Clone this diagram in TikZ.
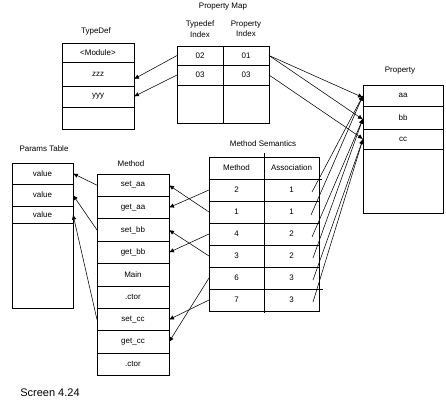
\documentclass[tikz,border=0pt]{standalone}
\usepackage{fontspec}
\setmainfont{Liberation Sans}
\usetikzlibrary{arrows.meta,positioning}

\begin{document}
\begin{tikzpicture}[x=1pt,y=-1pt,
node distance=0pt,
cell/.style={draw,line width=0.7pt,inner sep=0pt,outer sep=0pt,font=\fontsize{8}{9}\selectfont},
tdcell/.style={cell,minimum width=72pt},
pmcell/.style={cell,minimum width=46pt},
prcell/.style={cell,minimum width=80pt},
pacell/.style={cell,minimum width=61pt},
mcell/.style={cell,minimum width=72pt,minimum height=22.4pt},
mscell/.style={cell,minimum width=55pt,minimum height=22pt},
lbl/.style={font=\fontsize{8}{10.5}\selectfont,align=center,inner sep=0pt},
arr/.style={-{Latex[length=5pt,width=4.5pt]},line width=0.55pt}
]
\useasboundingbox (0,0) rectangle (446,405);

% TypeDef
\node[lbl] (ttd) at (96,31) {TypeDef};
\node[tdcell,minimum height=19pt] (td0) at (98,52.5) {<Module>};
\node[tdcell,minimum height=24pt,below=of td0] (td1) {zzz};
\node[tdcell,minimum height=21pt,below=of td1] (td2) {yyy};
\node[tdcell,minimum height=22pt,below=of td2] (td3) {};

% Property Map
\node[lbl] (tpm) at (223,7) {Property Map};
\node[lbl] (tpmi) at (200,29) {Typedef\\Index};
\node[lbl] (tpmp) at (246,29) {Property\\Index};
\node[pmcell,minimum height=19pt] (pm11) at (200,55.5) {02};
\node[pmcell,minimum height=19pt,right=of pm11] (pm12) {01};
\node[pmcell,minimum height=20pt,below=of pm11] (pm21) {03};
\node[pmcell,minimum height=20pt,right=of pm21] (pm22) {03};
\node[pmcell,minimum height=38pt,below=of pm21] (pm31) {};
\node[pmcell,minimum height=38pt,right=of pm31] (pm32) {};

% Property
\node[lbl] (tpr) at (400,71) {Property};
\node[prcell,minimum height=21pt] (pr1) at (403,95.5) {aa};
\node[prcell,minimum height=23pt,below=of pr1] (pr2) {bb};
\node[prcell,minimum height=20pt,below=of pr2] (pr3) {cc};
\node[prcell,minimum height=64pt,below=of pr3] (pr4) {};

% Params Table
\node[lbl] (tpa) at (44,149) {Params Table};
\node[pacell,minimum height=21pt] (pa1) at (42.5,173.5) {value};
\node[pacell,minimum height=22pt,below=of pa1] (pa2) {value};
\node[pacell,minimum height=17pt,below=of pa2] (pa3) {value};
\node[pacell,minimum height=85pt,below=of pa3] (pa4) {};

% Method
\node[lbl] (tm) at (131,164) {Method};
\node[mcell] (m1) at (133,185.2) {set\_aa};
\node[mcell,below=of m1] (m2) {get\_aa};
\node[mcell,below=of m2] (m3) {set\_bb};
\node[mcell,below=of m3] (m4) {get\_bb};
\node[mcell,below=of m4] (m5) {Main};
\node[mcell,below=of m5] (m6) {.ctor};
\node[mcell,below=of m6] (m7) {set\_cc};
\node[mcell,below=of m7] (m8) {get\_cc};
\node[mcell,below=of m8] (m9) {.ctor};

% Method Semantics
\node[lbl] (tms) at (263,144) {Method Semantics};
\node[mscell] (mh1) at (236.5,168) {Method};
\node[mscell,right=of mh1] (mh2) {Association};
\node[mscell,below=of mh1] (ms1) {2};
\node[mscell,right=of ms1] (as1) {1};
\node[mscell,below=of ms1] (ms2) {1};
\node[mscell,right=of ms2] (as2) {1};
\node[mscell,below=of ms2] (ms3) {4};
\node[mscell,right=of ms3] (as3) {2};
\node[mscell,below=of ms3] (ms4) {3};
\node[mscell,right=of ms4] (as4) {2};
\node[mscell,below=of ms4] (ms5) {6};
\node[mscell,right=of ms5] (as5) {3};
\node[mscell,below=of ms5] (ms6) {7};
\node[mscell,right=of ms6] (as6) {3};
\draw[line width=0.7pt] (mh1.north east) -- +(0,-4);
\draw[line width=0.7pt] (ms6.south east) -- +(0,2);
\draw[line width=0.7pt] (as1.north east) -- +(3,0);
\draw[line width=0.7pt] (as6.north east) -- +(4,0);

\node[font=\fontsize{11}{13}\selectfont,inner sep=0pt] (scr) at (50,393) {Screen 4.24};

% connectors
\draw[arr] (pm11.west) -- ([yshift=-5pt]td1.east);
\draw[arr] (pm21.west) -- (td2.east);
\draw[arr] (pm12.east) -- ([yshift=-2pt]pr1.west);
\draw[arr] (pm12.east) -- ([yshift=-2pt]pr2.west);
\draw[arr] (pm22.east) -- (pr3.west);

\coordinate (c1) at ([xshift=-7pt,yshift=-2pt]as1.east);
\coordinate (c2) at ([xshift=-8pt,yshift=-3pt]as2.east);
\coordinate (c3) at ([xshift=-7pt,yshift=-3pt]as3.east);
\coordinate (c4) at ([xshift=-6pt,yshift=-2pt]as4.east);
\coordinate (c5) at ([xshift=-6pt,yshift=-2pt]as5.east);
\coordinate (c6) at ([xshift=-6pt,yshift=-2pt]as6.east);
\draw[arr] (c1) -- (pr1.west);
\draw[arr] (c2) -- (pr1.west);
\draw[arr] (c3) -- ([yshift=-1pt]pr2.west);
\draw[arr] (c4) -- ([yshift=-1pt]pr2.west);
\draw[arr] (c5) -- (pr3.west);
\draw[arr] (c6) -- (pr3.west);

\draw[arr] (ms1.west) -- (m2.east);
\draw[arr] (ms2.west) -- (m1.east);
\draw[arr] (ms3.west) -- (m4.east);
\draw[arr] (ms4.west) -- (m3.east);
\draw[arr] (ms5.west) -- (m8.east);
\draw[arr] (ms6.west) -- (m7.east);

\draw[arr] (m1.west) -- (pa1.east);
\draw[arr] (m3.west) -- (pa2.east);
\draw[arr] (m7.west) -- (pa3.east);
\end{tikzpicture}
\end{document}
